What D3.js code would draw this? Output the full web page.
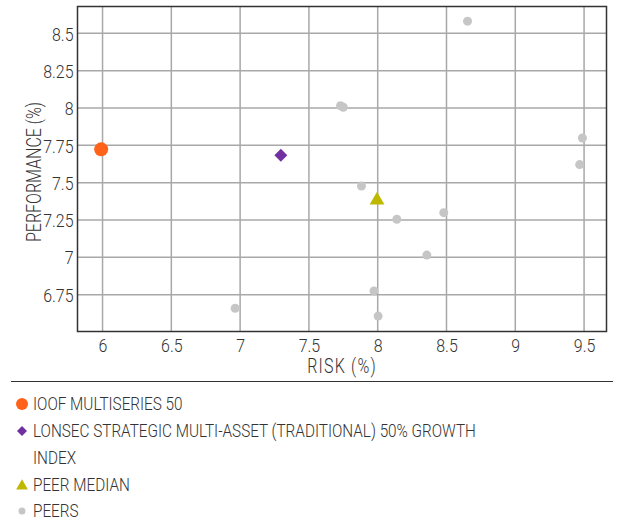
<!DOCTYPE html>
<html><head><meta charset="utf-8">
<script src="https://cdn.jsdelivr.net/npm/d3@7"></script>
<style>
html,body{margin:0;padding:0;background:#fff;}
svg text{font-family:Roboto,"DejaVu Sans Condensed",sans-serif;font-weight:300;fill:#333;}
</style></head>
<body><svg id="c" width="618" height="520"></svg>
<script>
const xTicks = [6, 6.5, 7, 7.5, 8, 8.5, 9, 9.5];
const yTicks = [6.75, 7, 7.25, 7.5, 7.75, 8, 8.25, 8.5];
const fundName = "IOOF MULTISERIES 50";
const fund = [[5.99, 7.723]];
const indexName = ["LONSEC STRATEGIC MULTI-ASSET (TRADITIONAL) 50% GROWTH", "INDEX"];
const indexPts = [[7.296, 7.683]];
const medianName = "PEER MEDIAN";
const median = [[7.995, 7.382]];
const peersName = "PEERS";
const peersX = [8.653, 7.73, 7.75, 9.488, 9.468, 7.882, 8.139, 8.48, 8.357, 7.973, 8.003, 6.964];
const peersY = [8.582, 8.015, 8.005, 7.799, 7.621, 7.477, 7.255, 7.299, 7.015, 6.775, 6.606, 6.659];

const svg = d3.select("#c");
const x = d3.scaleLinear().domain([5.818, 9.663]).range([77.5, 606.5]);
const y = d3.scaleLinear().domain([6.503, 8.68]).range([331.5, 6.5]);
const [x0, x1] = x.range(), [y0, y1] = y.range();

function label(sel, px, py, size, txt, sx, anchor) {
  return sel.append("text").attr("transform", `translate(${px},${py}) scale(${sx},1)`)
    .attr("text-anchor", anchor || "start").attr("dy", "0.35em").attr("font-size", size).text(txt);
}

// grid
const g = svg.append("g");
g.selectAll("line.vx").data(xTicks).join("line")
  .attr("x1", d => x(d)).attr("x2", d => x(d)).attr("y1", y1).attr("y2", y0)
  .attr("stroke", "#a8a8a8").attr("stroke-width", 1.5);
g.selectAll("line.hy").data(yTicks).join("line")
  .attr("y1", d => y(d)).attr("y2", d => y(d)).attr("x1", x0).attr("x2", x1)
  .attr("stroke", "#a8a8a8").attr("stroke-width", 1.5);
svg.append("rect").attr("x", x0).attr("y", y1).attr("width", x1 - x0).attr("height", y0 - y1)
  .attr("fill", "none").attr("stroke", "#333").attr("stroke-width", 1.5);

// axes
const xa = svg.append("g").attr("transform", `translate(0,${y0})`)
  .call(d3.axisBottom(x).tickValues(xTicks).tickFormat(d => String(d)).tickSize(0).tickPadding(0));
const ya = svg.append("g").attr("transform", `translate(${x0},0)`)
  .call(d3.axisLeft(y).tickValues(yTicks).tickFormat(d => String(d)).tickSize(0).tickPadding(0));
[xa, ya].forEach(a => {
  a.select(".domain").remove();
  a.selectAll("text").attr("font-size", 19).attr("fill", "#333").attr("font-family", null);
});
xa.selectAll("text").attr("y", null).attr("dy", null).attr("transform", "translate(0,20.5) scale(0.84,1)");
ya.selectAll("text").attr("x", null).attr("dy", "0.35em").attr("transform", "translate(-4,0) scale(0.84,1)");

label(svg, (x0 + x1) / 2, 366, 20, "RISK (%)", 0.8, "middle").attr("letter-spacing", 1.5);
svg.append("text").attr("transform", `translate(40.5,${(y0 + y1) / 2 + 3}) rotate(-90) scale(0.8,1)`)
  .attr("text-anchor", "middle").attr("font-size", 20).text("PERFORMANCE (%)");

// points
const peers = peersX.map((v, i) => [v, peersY[i]]);
svg.append("g").selectAll("circle").data(peers).join("circle")
  .attr("cx", d => x(d[0])).attr("cy", d => y(d[1])).attr("r", 4.5).attr("fill", "#c6c6c6");
svg.append("g").selectAll("path").data(median).join("path")
  .attr("transform", d => `translate(${x(d[0])},${y(d[1])})`)
  .attr("d", d3.symbol(d3.symbolTriangle, 95)).attr("fill", "#bfb800");
svg.append("g").selectAll("path").data(indexPts).join("path")
  .attr("transform", d => `translate(${x(d[0])},${y(d[1])}) rotate(45)`)
  .attr("d", d3.symbol(d3.symbolSquare, 84)).attr("fill", "#7030a0");
svg.append("g").selectAll("circle").data(fund).join("circle")
  .attr("cx", d => x(d[0])).attr("cy", d => y(d[1])).attr("r", 7).attr("fill", "#ff6319");

// legend
svg.append("line").attr("x1", 11).attr("x2", 613).attr("y1", 381.5).attr("y2", 381.5)
  .attr("stroke", "#333").attr("stroke-width", 1.2);
const lg = svg.append("g");
const lx = 33, LS = 0.85;
lg.append("circle").attr("cx", 22).attr("cy", 404).attr("r", 6).attr("fill", "#ff6319");
label(lg, lx, 404, 18, fundName, LS);
lg.append("path").attr("transform", "translate(22,431) rotate(45)").attr("d", d3.symbol(d3.symbolSquare, 50)).attr("fill", "#7030a0");
indexName.forEach((t, i) => label(lg, lx, 431 + i * 27, 18, t, LS));
lg.append("path").attr("transform", "translate(22,486)").attr("d", d3.symbol(d3.symbolTriangle, 60)).attr("fill", "#bfb800");
label(lg, lx, 485, 18, medianName, LS);
lg.append("circle").attr("cx", 22).attr("cy", 511).attr("r", 3.5).attr("fill", "#c6c6c6");
label(lg, lx, 510.5, 18, peersName, LS);
</script></body></html>
